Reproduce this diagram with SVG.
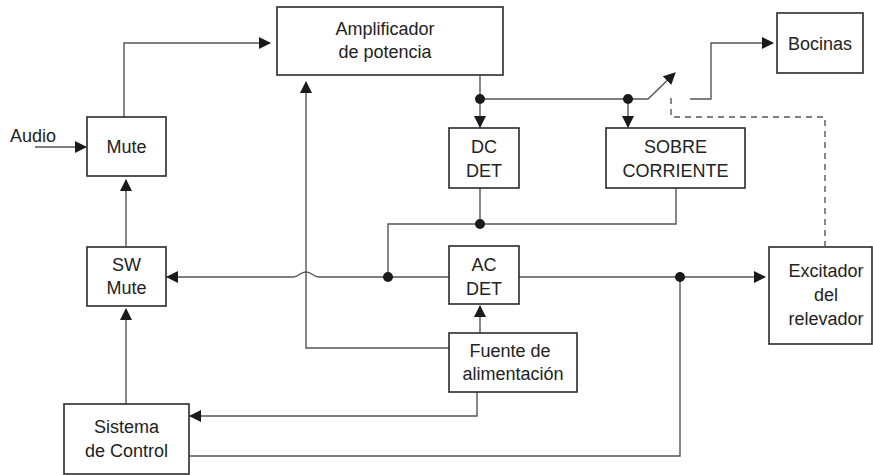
<svg xmlns="http://www.w3.org/2000/svg" width="873" height="475" viewBox="0 0 873 475">
<style>
.box{fill:#fff;stroke:#2a2a2a;stroke-width:1.6}
.ln{fill:none;stroke:#555;stroke-width:1.4}
.dash{fill:none;stroke:#555;stroke-width:1.4;stroke-dasharray:6 5}
.dot{fill:#1a1a1a}
text{font-family:"Liberation Sans",Arial,sans-serif;font-size:18px;fill:#222;text-anchor:middle}
</style>
<defs>
<marker id="ah" markerWidth="12" markerHeight="12" refX="11" refY="6" orient="auto" markerUnits="userSpaceOnUse">
<path d="M0,0 L12,6 L0,12 Z" fill="#1a1a1a"/>
</marker>
</defs>
<g id="connectors">
<path class="ln" d="M35,147 H86" marker-end="url(#ah)"/>
<path class="ln" d="M124,117 V43 H270" marker-end="url(#ah)"/>
<path class="ln" d="M126,246 V180" marker-end="url(#ah)"/>
<path class="ln" d="M126,404 V309" marker-end="url(#ah)"/>
<path class="ln" d="M449,348 H306 V82" marker-end="url(#ah)"/>
<path class="ln" d="M480,76 V127" marker-end="url(#ah)"/>
<path class="ln" d="M480,99 H648 L675,73" marker-end="url(#ah)"/>
<path class="ln" d="M628,99 V127" marker-end="url(#ah)"/>
<path class="ln" d="M690,99 H711 V43 H773" marker-end="url(#ah)"/>
<path class="dash" d="M671,98 V117 H825 V246"/>
<path class="ln" d="M480,188 V224"/>
<path class="ln" d="M676,188 V224 H388 V277"/>
<path class="ln" d="M449,277 H319 C313,277 312,272 306,272 C300,272 299,277 293,277 H167" marker-end="url(#ah)"/>
<path class="ln" d="M519,277 H765" marker-end="url(#ah)"/>
<path class="ln" d="M480,333 V306" marker-end="url(#ah)"/>
<path class="ln" d="M477,392 V416 H190" marker-end="url(#ah)"/>
<path class="ln" d="M189,456 H680 V277"/>
<circle class="dot" cx="480" cy="99" r="5"/>
<circle class="dot" cx="628" cy="99" r="5"/>
<circle class="dot" cx="480" cy="224" r="5"/>
<circle class="dot" cx="388" cy="277" r="5"/>
<circle class="dot" cx="680" cy="277" r="5"/>
</g>
<text x="33" y="142">Audio</text>
<g id="mute"><rect class="box" x="87" y="117" width="79" height="59"/><text x="126.5" y="153">Mute</text></g>
<g id="amplificador"><rect class="box" x="277" y="7" width="226" height="68"/><text x="385" y="35">Amplificador</text><text x="385" y="58">de potencia</text></g>
<g id="bocinas"><rect class="box" x="777" y="13" width="86" height="60"/><text x="820" y="50">Bocinas</text></g>
<g id="dcdet"><rect class="box" x="449" y="128" width="70" height="60"/><text x="484" y="153">DC</text><text x="484" y="177">DET</text></g>
<g id="sobrecorriente"><rect class="box" x="606" y="128" width="139" height="60"/><text x="675.5" y="153">SOBRE</text><text x="675.5" y="177">CORRIENTE</text></g>
<g id="swmute"><rect class="box" x="87" y="247" width="79" height="59"/><text x="126.5" y="271">SW</text><text x="126.5" y="294">Mute</text></g>
<g id="acdet"><rect class="box" x="449" y="246" width="70" height="58"/><text x="484" y="271">AC</text><text x="484" y="295">DET</text></g>
<g id="excitador"><rect class="box" x="769" y="247" width="103" height="97"/><text x="826" y="277">Excitador</text><text x="826" y="301">del</text><text x="826" y="325">relevador</text></g>
<g id="fuente"><rect class="box" x="449" y="333" width="128" height="59"/><text x="510" y="357">Fuente de</text><text x="513" y="380">alimentación</text></g>
<g id="sistema"><rect class="box" x="64" y="404" width="125" height="70"/><text x="126.5" y="433">Sistema</text><text x="126.5" y="457">de Control</text></g>
</svg>
